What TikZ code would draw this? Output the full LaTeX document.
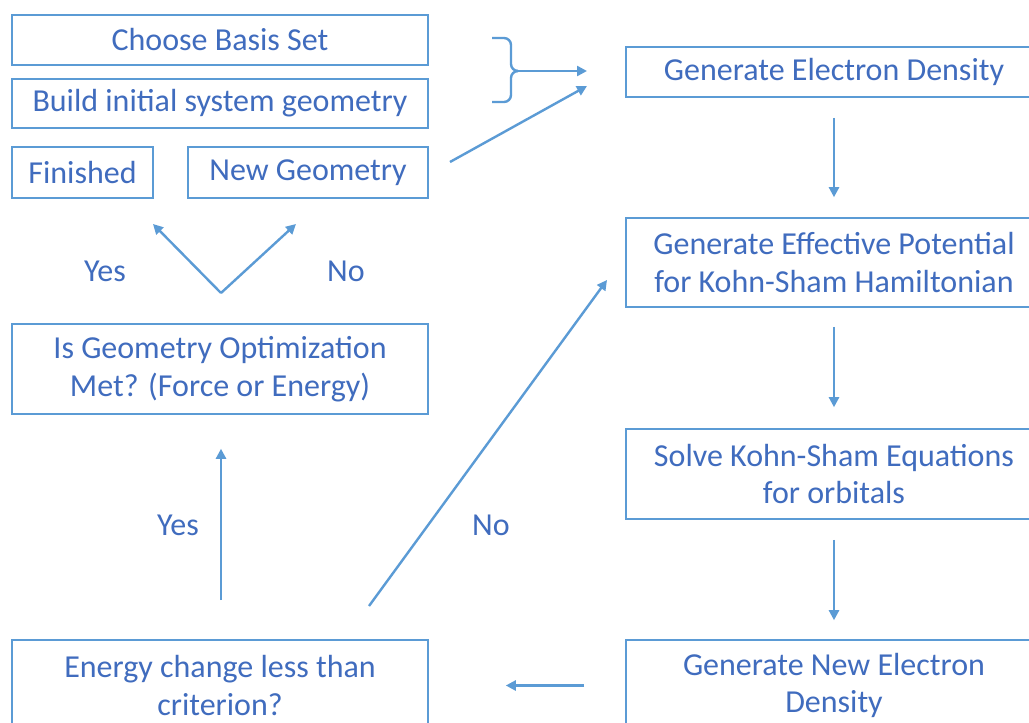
\documentclass[tikz,border=0pt]{standalone}
\usepackage{fontspec}
\setmainfont{Carlito}
\definecolor{line_c}{RGB}{91,155,213}
\definecolor{text_c}{RGB}{64,108,190}
\usetikzlibrary{arrows.meta,
                positioning}

\begin{document}
\begin{tikzpicture}[
			x=1pt, y=-1pt,
			box/.style = {draw=line_c, line width=1.6pt, text=text_c, align=center,
				inner sep=0pt, minimum width=416pt,
				font=\fontsize{32}{37.5}\selectfont},
			lbl/.style = {text=text_c, font=\fontsize{32}{37.5}\selectfont},
			flow/.style = {draw=line_c, line width=2.4pt,
				-{Triangle[length=10pt,width=10pt]}},
			]
			\fill[white] (0,0) rectangle (1029,723);
			\useasboundingbox (0,0) rectangle (1029,723);
			% left column
			\node[box, minimum height=50pt] (basis) at (220,40) {Choose Basis Set};
			\node[box, minimum height=49pt] (build) at (220,103.5) {Build initial system geometry};
			\node[box, minimum width=141pt, minimum height=51pt] (fin) at (82.5,172.5) {Finished};
			\node[box, minimum width=240pt, minimum height=51pt] (newgeo) at (308,172.5) {New Geometry};
			\node[box, minimum height=90pt] (opt) at (220,369) {Is Geometry Optimization\\Met? (Force or Energy)};
			\node[box, minimum height=91pt] (energy) at (220,685.5) {Energy change less than\\criterion?};
			% right column
			\node[box, minimum height=50pt] (ged) at (834,72) {Generate Electron Density};
			\node[box, minimum height=89pt] (eff) at (834,262.5) {Generate Effective Potential\\for Kohn-Sham Hamiltonian};
			\node[box, minimum height=90pt] (solve) at (834,474) {Solve Kohn-Sham Equations\\for orbitals};
			\node[box, minimum height=91pt] (newden) at (834,685.5) {Generate New Electron\\Density};
			% labels
			\node[lbl] (yes1) at (105,271) {Yes};
			\node[lbl] (no1) at (346,271) {No};
			\node[lbl] (yes2) at (178,525) {Yes};
			\node[lbl] (no2) at (491,525) {No};
			% brace
			\coordinate (bt) at (515,71);
			\draw[line_c, line width=2.4pt, rounded corners=7pt]
				(492,38) -- (511,38) -- (511,71) -- (bt);
			\draw[line_c, line width=2.4pt, rounded corners=7pt]
				(492,102) -- (511,102) -- (511,71) -- (bt);
			\coordinate (gin) at (587,71);
			\coordinate (ngo) at (450,162);
			\coordinate (gin2) at (587,86);
			\coordinate (vb) at (221,293);
			\coordinate (vl) at (153,224);
			\coordinate (vr) at (296,224);
			\coordinate (nos) at (369,606);
			\coordinate (noe) at (607,280);
			% arrows
			\draw[flow] (bt) -- (gin);
			\draw[flow] (ngo) -- (gin2);
			\draw[flow, shorten <=20pt, shorten >=20pt] (ged) -- (eff);
			\draw[flow, shorten <=19pt, shorten >=21pt] (eff) -- (solve);
			\draw[flow, shorten <=20pt, shorten >=19pt] (solve) -- (newden);
			\draw[flow, shorten <=41pt, shorten >=77pt] (newden.west) -- (energy.east);
			\draw[flow, shorten <=39pt, shorten >=34pt] (energy.north -| 221,0) -- (opt.south -| 221,0);
			\draw[flow] (nos) -- (noe);
			\draw[flow] (vb) -- (vl);
			\draw[flow] (vb) -- (vr);
		\end{tikzpicture}
\end{document}
